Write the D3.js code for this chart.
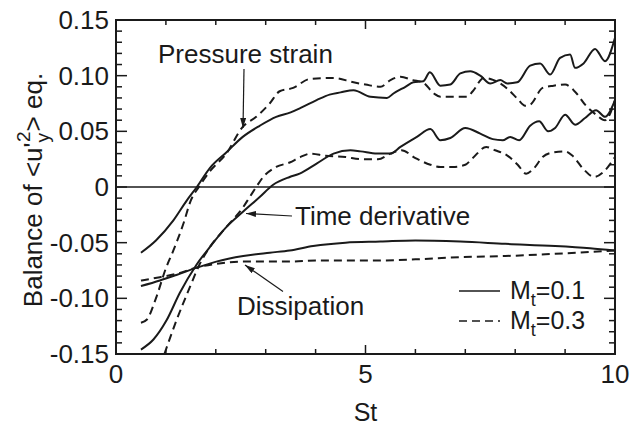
<!DOCTYPE html>
<html>
<head>
<meta charset="utf-8">
<script src="https://cdn.jsdelivr.net/npm/d3@7"></script>
<style>
  body { margin: 0; background: #fff; }
  svg text { font-family: "Liberation Sans", Arial, sans-serif; fill: #1a1a1a; }
</style>
</head>
<body>
<svg id="chart" width="637" height="429"></svg>
<script>
// [St, value]
var pressureM01 = [[0.5,-0.059],[0.8,-0.048],[1.15,-0.030],[1.42,-0.012],[1.62,0.0],[1.88,0.017],[2.21,0.031],[2.54,0.045],[2.88,0.055],[3.21,0.063],[3.5,0.067],[3.7,0.071],[4.02,0.078],[4.28,0.083],[4.5,0.085],[4.76,0.087],[5.1,0.081],[5.43,0.080],[5.56,0.084],[5.8,0.090],[5.96,0.094],[6.16,0.095],[6.29,0.103],[6.5,0.091],[6.7,0.092],[6.9,0.102],[7.1,0.104],[7.3,0.100],[7.5,0.093],[7.7,0.096],[7.84,0.093],[8.04,0.094],[8.3,0.109],[8.5,0.111],[8.7,0.101],[8.9,0.116],[9.1,0.119],[9.2,0.107],[9.37,0.111],[9.6,0.124],[9.8,0.113],[10.0,0.134]];
var pressureM03 = [[0.5,-0.122],[0.62,-0.119],[0.8,-0.100],[1.0,-0.073],[1.15,-0.057],[1.35,-0.033],[1.5,-0.012],[1.66,0.0],[1.88,0.014],[2.21,0.030],[2.54,0.054],[2.81,0.063],[3.08,0.075],[3.28,0.086],[3.55,0.089],[3.88,0.097],[4.36,0.098],[4.76,0.094],[5.0,0.092],[5.3,0.090],[5.5,0.096],[5.7,0.099],[5.95,0.096],[6.15,0.094],[6.37,0.084],[6.5,0.081],[7.03,0.081],[7.15,0.086],[7.37,0.098],[7.57,0.096],[7.85,0.088],[8.05,0.079],[8.2,0.073],[8.3,0.074],[8.55,0.089],[8.77,0.091],[9.0,0.092],[9.17,0.087],[9.42,0.073],[9.62,0.065],[9.8,0.060],[10.0,0.078]];
var timeDerM01 = [[0.5,-0.146],[0.75,-0.137],[1.01,-0.120],[1.28,-0.095],[1.61,-0.070],[1.88,-0.054],[2.21,-0.036],[2.55,-0.022],[2.88,-0.009],[3.15,0.002],[3.48,0.009],[3.68,0.012],[4.02,0.021],[4.36,0.030],[4.7,0.033],[4.9,0.032],[5.23,0.030],[5.5,0.030],[5.7,0.036],[6.03,0.045],[6.3,0.052],[6.5,0.042],[6.7,0.044],[7.0,0.053],[7.3,0.048],[7.55,0.043],[7.75,0.042],[7.9,0.045],[8.08,0.042],[8.3,0.055],[8.48,0.059],[8.66,0.050],[8.8,0.053],[9.0,0.065],[9.2,0.056],[9.4,0.062],[9.62,0.069],[9.8,0.063],[10.0,0.078]];
var timeDerM03 = [[0.97,-0.150],[1.21,-0.120],[1.48,-0.090],[1.68,-0.069],[1.88,-0.054],[2.21,-0.036],[2.55,-0.018],[2.68,-0.009],[2.81,0.0],[2.95,0.009],[3.21,0.018],[3.48,0.022],[3.7,0.027],[3.9,0.030],[4.2,0.028],[4.6,0.027],[4.9,0.025],[5.25,0.025],[5.5,0.030],[5.72,0.033],[6.0,0.026],[6.3,0.020],[6.5,0.018],[6.75,0.018],[7.0,0.020],[7.15,0.026],[7.42,0.036],[7.6,0.033],[7.85,0.028],[8.05,0.020],[8.22,0.012],[8.38,0.017],[8.55,0.027],[8.75,0.031],[9.0,0.032],[9.15,0.028],[9.37,0.016],[9.58,0.009],[9.78,0.014],[10.0,0.027]];
var dissM01 = [[0.5,-0.089],[0.88,-0.084],[1.21,-0.079],[1.65,-0.072],[2.01,-0.067],[2.55,-0.062],[3.08,-0.059],[3.48,-0.057],[3.95,-0.053],[4.6,-0.050],[5.3,-0.049],[6.0,-0.048],[6.9,-0.049],[7.8,-0.051],[8.8,-0.053],[9.5,-0.055],[10.0,-0.057]];
var dissM03 = [[0.5,-0.084],[0.88,-0.081],[1.21,-0.078],[1.65,-0.072],[2.01,-0.069],[2.55,-0.067],[3.5,-0.067],[4.0,-0.066],[5.3,-0.066],[6.0,-0.065],[6.9,-0.063],[7.8,-0.062],[8.8,-0.060],[10.0,-0.057]];

var yTickLabels = ["-0.15", "-0.10", "-0.05", "0", "0.05", "0.10", "0.15"];
var yTickValues = [-0.15, -0.10, -0.05, 0, 0.05, 0.10, 0.15];
var xTickValues = [0, 5, 10];
var legendLabels = ["0.1", "0.3"];

(function () {
var svg = d3.select("#chart");
var pL = 116, pR = 615, pT = 20, pB = 354;

var x = d3.scaleLinear().domain([0, 10]).range([pL, pR]);
var y = d3.scaleLinear().domain([-0.15, 0.15]).range([pB, pT]);

// arrow head
svg.append("defs").append("marker")
    .attr("id", "head")
    .attr("viewBox", "0 0 10 6")
    .attr("refX", 10).attr("refY", 3)
    .attr("markerWidth", 10).attr("markerHeight", 6)
    .attr("markerUnits", "userSpaceOnUse")
    .attr("orient", "auto")
    .append("path").attr("d", "M0,0L10,3L0,6Z").attr("fill", "#1a1a1a");

// zero line
svg.append("line")
    .attr("x1", x(0)).attr("x2", x(10))
    .attr("y1", y(0)).attr("y2", y(0))
    .attr("stroke", "#1a1a1a").attr("stroke-width", 1.6);

// ticks on all four sides
var xMinor = d3.range(0, 11);
var yMinor = d3.range(-15, 16).map(function (d) { return d / 100; });
var tickG = svg.append("g").attr("stroke", "#1a1a1a").attr("stroke-width", 1.5);
xMinor.forEach(function (t) {
    var len = (t % 5 === 0) ? 9 : 5;
    tickG.append("line").attr("x1", x(t)).attr("x2", x(t)).attr("y1", pB).attr("y2", pB - len);
    tickG.append("line").attr("x1", x(t)).attr("x2", x(t)).attr("y1", pT).attr("y2", pT + len);
});
yMinor.forEach(function (t) {
    var len = (Math.round(t * 100) % 5 === 0) ? 11 : 6;
    tickG.append("line").attr("x1", pL).attr("x2", pL + len).attr("y1", y(t)).attr("y2", y(t));
    tickG.append("line").attr("x1", pR).attr("x2", pR - len).attr("y1", y(t)).attr("y2", y(t));
});

// frame
svg.append("rect")
    .attr("x", pL).attr("y", pT)
    .attr("width", pR - pL).attr("height", pB - pT)
    .attr("fill", "none").attr("stroke", "#1a1a1a").attr("stroke-width", 2);

// tick labels
svg.selectAll(".ylab").data(yTickValues).enter().append("text")
    .attr("class", "ylab")
    .attr("x", 109).attr("y", function (d) { return y(d) + 9; })
    .attr("text-anchor", "end").attr("font-size", 26)
    .text(function (d, i) { return yTickLabels[i]; });

svg.selectAll(".xlab").data(xTickValues).enter().append("text")
    .attr("class", "xlab")
    .attr("x", function (d) { return x(d); }).attr("y", 383)
    .attr("text-anchor", "middle").attr("font-size", 26)
    .text(function (d) { return d; });

svg.append("text").attr("x", x(5)).attr("y", 421)
    .attr("text-anchor", "middle").attr("font-size", 25).text("St");

// y axis title
var yt = svg.append("text")
    .attr("transform", "translate(42,190) rotate(-90)")
    .attr("text-anchor", "middle").attr("font-size", 26);
yt.append("tspan").text("Balance of <u'");
yt.append("tspan").attr("font-size", 19).attr("dy", 7).text("y");
yt.append("tspan").attr("font-size", 19).attr("dx", -9).attr("dy", -19).text("2");
yt.append("tspan").attr("dy", 12).text("> eq.");

// curves
var line = d3.line()
    .x(function (d) { return x(d[0]); })
    .y(function (d) { return y(d[1]); })
    .curve(d3.curveMonotoneX);

var series = [
    { data: pressureM01, dash: null },
    { data: pressureM03, dash: "8,5" },
    { data: timeDerM01, dash: null },
    { data: timeDerM03, dash: "8,5" },
    { data: dissM01, dash: null },
    { data: dissM03, dash: "8,5" }
];
svg.append("g").selectAll("path").data(series).enter().append("path")
    .attr("d", function (d) { return line(d.data); })
    .attr("fill", "none")
    .attr("stroke", "#1a1a1a")
    .attr("stroke-width", 2)
    .attr("stroke-dasharray", function (d) { return d.dash; });

// annotations
function note(label, tx, ty, ax1, ay1, ax2, ay2) {
    svg.append("text").attr("x", tx).attr("y", ty).attr("font-size", 26).text(label);
    svg.append("line")
        .attr("x1", ax1).attr("y1", ay1).attr("x2", ax2).attr("y2", ay2)
        .attr("stroke", "#1a1a1a").attr("stroke-width", 1.2)
        .attr("marker-end", "url(#head)");
}
note("Pressure strain", 158, 63, 244, 69, 243, 128);
note("Time derivative", 295, 225, 292, 216, 246, 213.5);
note("Dissipation", 237, 315, 283, 291.5, 245, 265);

// legend
var legend = svg.append("g");
legendLabels.forEach(function (lab, i) {
    var ly = 299 + i * 30;
    legend.append("line")
        .attr("x1", 459).attr("x2", 500)
        .attr("y1", ly - 8).attr("y2", ly - 8)
        .attr("stroke", "#1a1a1a").attr("stroke-width", 1.6)
        .attr("stroke-dasharray", i === 0 ? null : "8,5");
    var t = legend.append("text").attr("x", 510).attr("y", ly).attr("font-size", 25);
    t.append("tspan").text("M");
    t.append("tspan").attr("font-size", 18).attr("dy", 7).text("t");
    t.append("tspan").attr("dy", -7).text("=" + lab);
});
})();
</script>
</body>
</html>
